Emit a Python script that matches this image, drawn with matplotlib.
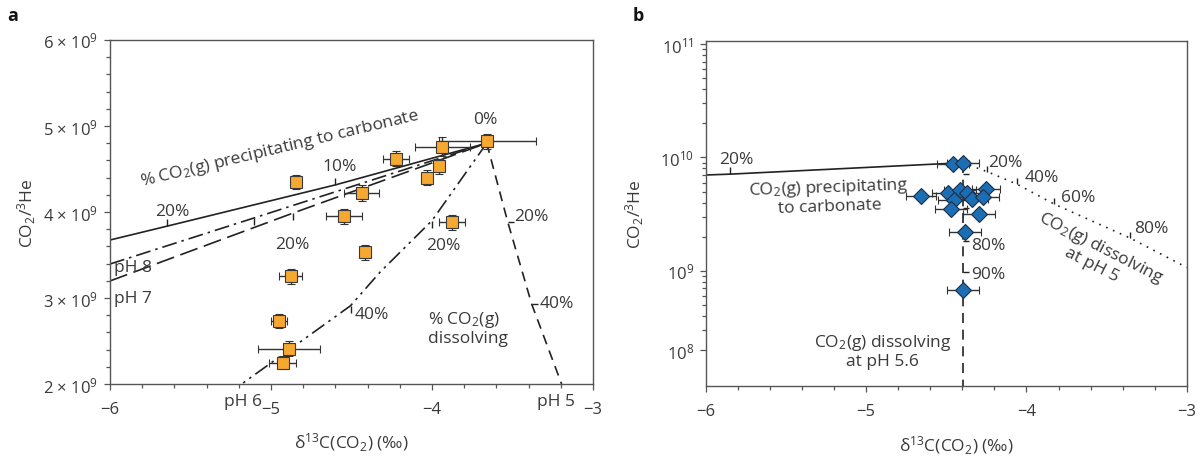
import numpy as np
import matplotlib.pyplot as plt
from matplotlib.ticker import MultipleLocator, FixedLocator, FixedFormatter, LogLocator, NullFormatter
from matplotlib.markers import TICKUP, TICKDOWN, TICKRIGHT

plt.rcParams['font.family'] = ['Open Sans', 'DejaVu Sans']
plt.rcParams['mathtext.default'] = 'regular'
plt.rcParams['font.size'] = 12

INK = '#3a3a3a'
LINE = '#222222'
FS = 12.5

# ---- panel a: data (d13C, CO2/3He) ----
a_x = [-3.656, -3.936, -3.955, -4.033, -4.225, -3.876, -4.437,
       -4.547, -4.847, -4.416, -4.878, -4.948, -4.888, -4.927]
a_y = [4.82e9, 4.76e9, 4.53e9, 4.40e9, 4.62e9, 3.88e9, 4.22e9,
       3.95e9, 4.35e9, 3.53e9, 3.25e9, 2.73e9, 2.41e9, 2.25e9]
a_xerr = [0.30, 0.17, 0.0, 0.0, 0.08, 0.08, 0.11,
          0.11, 0.0, 0.0, 0.07, 0.05, 0.19, 0.085]
a_yerr = [0.09e9, 0.11e9, 0.09e9, 0.09e9, 0.09e9, 0.09e9, 0.09e9,
          0.09e9, 0.085e9, 0.09e9, 0.09e9, 0.08e9, 0.09e9, 0.08e9]

# model curves, panel a
prec_x = [-6.0, -5.648, -4.602, -3.66]
prec_y = [3.674e9, 3.834e9, 4.314e9, 4.80e9]
ph8_x = [-6.0, -5.106, -3.66]
ph8_y = [3.395e9, 3.93e9, 4.80e9]
ph7_x = [-6.0, -4.862, -3.66]
ph7_y = [3.198e9, 3.988e9, 4.80e9]
ph6_x = [-3.66, -4.0, -4.323, -4.506, -5.182]
ph6_y = [4.80e9, 3.90e9, 3.30e9, 2.91e9, 2.0e9]
ph5_x = [-3.66, -3.530, -3.381, -3.195]
ph5_y = [4.80e9, 3.887e9, 2.93e9, 2.0e9]

# ---- panel b: data ----
b_x = [-4.460, -4.398, -4.659, -4.491, -4.414, -4.373, -4.252,
       -4.450, -4.342, -4.269, -4.472, -4.294, -4.381, -4.398]
b_y = [8.73e9, 8.98e9, 4.6e9, 4.9e9, 5.16e9, 4.83e9, 5.24e9,
       4.22e9, 4.28e9, 4.46e9, 3.50e9, 3.18e9, 2.18e9, 6.72e8]
b_xerr = [0.10, 0.10, 0.094, 0.10, 0.10, 0.09, 0.09,
          0.10, 0.10, 0.10, 0.10, 0.10, 0.10, 0.10]

bprec_x = [-6.0, -5.85, -4.398]
bprec_y = [7.0e9, 7.12e9, 8.98e9]
bdot_x = [-4.398, -4.244, -4.061, -3.829, -3.355, -3.0]
bdot_y = [8.98e9, 7.48e9, 5.83e9, 3.89e9, 1.95e9, 1.07e9]
bvert_x = [-4.394, -4.394]
bvert_y = [8.9e9, 9.0e7]
bvert_ticks = [7.2e9, 5.4e9, 3.57e9, 1.85e9, 0.98e9]

fig = plt.figure(figsize=(11.98, 4.6), dpi=100)
axa = fig.add_axes([0.0918, 0.163, 0.4032, 0.748])
axb = fig.add_axes([0.5889, 0.159, 0.4019, 0.7495])


def style(ax):
    for s in ax.spines.values():
        s.set_color('#555555')
        s.set_linewidth(1.0)
    ax.tick_params(which='both', direction='out', color='#555555', labelcolor=INK,
                   labelsize=12, width=0.9)
    ax.tick_params(which='major', length=4)
    ax.tick_params(which='minor', length=3)
    ax.tick_params(axis='x', which='major', pad=8)
    ax.set_xlim(-6, -3)
    ax.xaxis.set_major_locator(FixedLocator([-6, -5, -4, -3]))
    ax.xaxis.set_major_formatter(FixedFormatter(['\u22126', '\u22125', '\u22124', '\u22123']))
    ax.xaxis.set_minor_locator(MultipleLocator(0.2))


# ---------------- panel a ----------------
ax = axa
style(ax)
ax.tick_params(axis='y', which='major', pad=5)
ax.set_ylim(2e9, 6e9)
ax.yaxis.set_major_locator(FixedLocator([2e9, 3e9, 4e9, 5e9, 6e9]))
ax.yaxis.set_major_formatter(FixedFormatter([r'%d × 10$^{9}$' % v for v in [2, 3, 4, 5, 6]]))
ax.yaxis.set_minor_locator(MultipleLocator(0.2e9))

ax.plot(prec_x, prec_y, color=LINE, lw=1.2, zorder=2)
ax.plot(ph8_x, ph8_y, color=LINE, lw=1.2, dashes=(9, 3, 1.5, 3), zorder=2)
ax.plot(ph7_x, ph7_y, color=LINE, lw=1.2, dashes=(11, 4), zorder=2)
ax.plot(ph6_x, ph6_y, color=LINE, lw=1.2, dashes=(9, 3, 1.5, 3, 1.5, 3), zorder=2)
ax.plot(ph5_x, ph5_y, color=LINE, lw=1.2, dashes=(6, 4), zorder=2)

ax.plot(prec_x[1:3], prec_y[1:3], ls='none', marker=TICKUP, ms=5, mew=1, color=LINE)
ax.plot([ph8_x[1], ph7_x[1]], [ph8_y[1], ph7_y[1]], ls='none', marker=TICKDOWN, ms=5, mew=1, color=LINE)
ax.plot(ph6_x[1:4:2], ph6_y[1:4:2], ls='none', marker=TICKDOWN, ms=5, mew=1, color=LINE)
ax.plot(ph5_x[1:3], ph5_y[1:3], ls='none', marker=TICKRIGHT, ms=4, mew=1, color=LINE)

ax.errorbar(a_x, a_y, xerr=a_xerr, yerr=a_yerr, fmt='s', ms=8, mfc='#f6a831', mec='#3a3a3a',
            mew=0.8, ecolor='#333333', elinewidth=1, capsize=3, capthick=1, zorder=4)

tk = dict(color=INK, ha='center', va='center', fontsize=FS)
ax.text(-3.671, 5.08e9, '0%', **tk)
ax.text(-4.944, 4.744e9, r'% CO$_2$(g) precipitating to carbonate', rotation=13.5, **tk)
ax.text(-4.571, 4.538e9, '10%', **tk)
ax.text(-5.611, 4.015e9, '20%', **tk)
ax.text(-4.865, 3.628e9, '20%', **tk)
ax.text(-3.930, 3.62e9, '20%', **tk)
ax.text(-3.381, 3.95e9, '20%', **tk)
ax.text(-4.375, 2.814e9, '40%', **tk)
ax.text(-3.226, 2.942e9, '40%', **tk)
ax.text(-4.023, 2.66e9, '% CO$_2$(g)\ndissolving', color=INK, ha='left', va='center',
        fontsize=FS, linespacing=1.1)
ax.text(-5.857, 3.36e9, 'pH 8', **tk)
ax.text(-5.855, 3.0e9, 'pH 7', **tk)
ax.text(-5.172, 1.806e9, 'pH 6', clip_on=False, **tk)
ax.text(-3.23, 1.80e9, 'pH 5', clip_on=False, **tk)

ax.set_ylabel(r'CO$_2$/$^3$He', color=INK, fontsize=FS)
ax.yaxis.set_label_coords(-0.149, 0.5)
ax.set_xlabel(r'δ$^{13}$C(CO$_2$) (‰)', color=INK, fontsize=FS)
ax.xaxis.set_label_coords(0.5, -0.135)

# ---------------- panel b ----------------
ax = axb
style(ax)
ax.tick_params(axis='y', which='major', pad=4)
ax.set_yscale('log')
ax.set_ylim(9.7e7, 1.06e11)
ax.yaxis.set_major_locator(FixedLocator([2e8, 1e9, 1e10, 1e11]))
ax.yaxis.set_major_formatter(FixedFormatter([r'10$^{8}$', r'10$^{9}$', r'10$^{10}$', r'10$^{11}$']))
ax.yaxis.set_minor_locator(LogLocator(base=10, subs=np.arange(2, 10), numticks=20))
ax.yaxis.set_minor_formatter(NullFormatter())

ax.plot(bprec_x, bprec_y, color=LINE, lw=1.2, zorder=2)
ax.plot(bdot_x, bdot_y, color=LINE, lw=1.2, dashes=(1, 3.5), zorder=2)
ax.plot(bvert_x, bvert_y, color=LINE, lw=1.2, dashes=(6, 4), zorder=2)

ax.plot(bprec_x[1:2], bprec_y[1:2], ls='none', marker=TICKUP, ms=5, mew=1, color=LINE)
ax.plot(bdot_x[1:5], bdot_y[1:5], ls='none', marker=TICKUP, ms=4, mew=1, color=LINE)
ax.plot([bvert_x[0]] * len(bvert_ticks), bvert_ticks, ls='none', marker=TICKRIGHT, ms=4,
        mew=1, color=LINE)

ax.errorbar(b_x, b_y, xerr=b_xerr, fmt='D', ms=8, mfc='#1b6db4', mec='#1c2e4a', mew=0.8,
            ecolor='#333333', elinewidth=1, capsize=3, capthick=1, zorder=4)

ax.text(-5.806, 9.6e9, '20%', **tk)
ax.text(-5.231, 4.57e9, 'CO$_2$(g) precipitating\nto carbonate', rotation=2, linespacing=1.1,
        multialignment='center', **tk)
ax.text(-4.134, 9.14e9, '20%', **tk)
ax.text(-3.905, 6.76e9, '40%', **tk)
ax.text(-3.677, 4.46e9, '60%', **tk)
ax.text(-3.220, 2.38e9, '80%', **tk)
ax.text(-3.561, 1.39e9, 'CO$_2$(g) dissolving\nat pH 5', rotation=-27, linespacing=1.1,
        multialignment='center', **tk)
ax.text(-4.348, 1.70e9, '80%', color=INK, ha='left', va='center', fontsize=FS)
ax.text(-4.348, 9.4e8, '90%', color=INK, ha='left', va='center', fontsize=FS)
ax.text(-4.898, 2.0e8, 'CO$_2$(g) dissolving\nat pH 5.6', linespacing=1.1,
        multialignment='center', **tk)

ax.set_ylabel(r'CO$_2$/$^3$He', color=INK, fontsize=FS)
ax.yaxis.set_label_coords(-0.124, 0.5)
ax.set_xlabel(r'δ$^{13}$C(CO$_2$) (‰)', color=INK, fontsize=FS)
ax.xaxis.set_label_coords(0.52, -0.14)

fig.text(0.011, 0.965, 'a', fontsize=13, fontweight='bold', color='#111111', ha='center', va='center')
fig.text(0.533, 0.965, 'b', fontsize=13, fontweight='bold', color='#111111', ha='center', va='center')

fig.savefig('out.png', dpi=100)
